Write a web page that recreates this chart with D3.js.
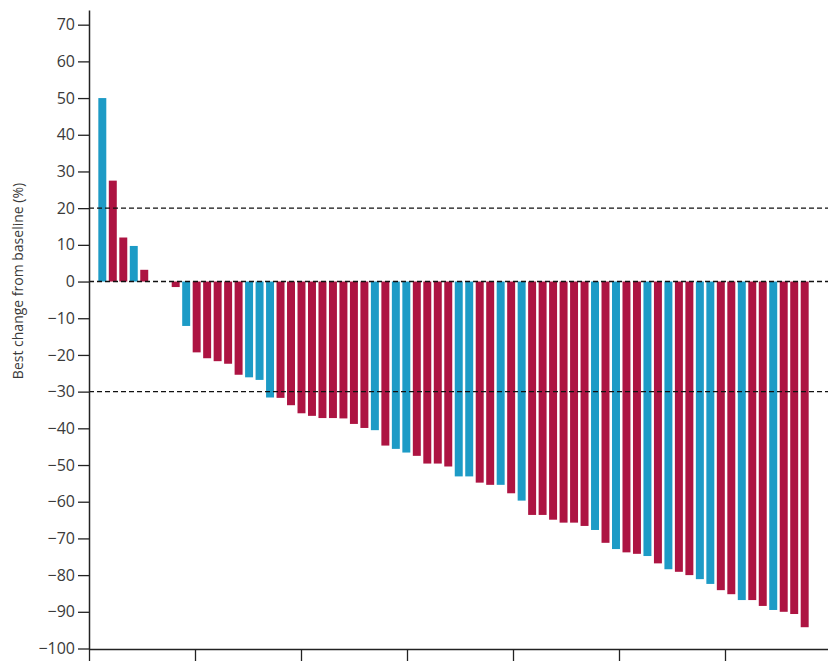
<!DOCTYPE html>
<html>
<head>
<meta charset="utf-8">
<script src="https://cdn.jsdelivr.net/npm/d3@7"></script>
<style>
  body { margin: 0; background: #fff; }
  svg { display: block; }
</style>
</head>
<body>
<script>
// best change from baseline per patient, sorted
var changes = [50, 27.5, 12, 9.7, 3.2, 0, 0, -1.5, -12.1, -19.3,
	-20.9, -21.7, -22.4, -25.4, -26.1, -26.8, -31.6, -31.7, -33.7, -35.9,
	-36.6, -37.2, -37.2, -37.3, -38.8, -39.9, -40.5, -44.7, -45.6, -46.6,
	-47.5, -49.6, -49.6, -50.4, -53.1, -53.1, -54.8, -55.4, -55.4, -57.7,
	-59.7, -63.6, -63.6, -64.9, -65.7, -65.7, -66.6, -67.7, -71.2, -72.9,
	-73.8, -74.2, -74.8, -76.8, -78.4, -79.1, -80.0, -81.1, -82.4, -84.1,
	-85.2, -86.8, -86.8, -88.4, -89.5, -90.0, -90.6, -94.2];

// arm of each patient (B = blue bars, R = red bars)
var arms = ["B","R","R","B","R","R","R","R","B","R",
	"R","R","R","R","B","B","B","R","R","R",
	"R","R","R","R","R","R","B","R","B","B",
	"R","R","R","R","B","B","R","R","B","R",
	"B","R","R","R","R","R","R","B","R","B",
	"R","R","B","R","B","R","R","B","B","R",
	"R","B","R","R","B","R","R","R"];

var yTicks = [70, 60, 50, 40, 30, 20, 10, 0, -10, -20, -30, -40, -50, -60, -70, -80, -90, -100];
var refLines = [20, 0, -30];
var xTicks = [0, 1, 2, 3, 4, 5, 6];

var W = 828, H = 661;
var colors = { B: "#1d9bc6", R: "#ad1442" };

var svg = d3.select("body").append("svg")
	.attr("width", W)
	.attr("height", H);

var y = d3.scaleLinear()
	.domain([-100, 74])
	.range([648.5, 10]);

var x = d3.scaleBand()
	.domain(d3.range(changes.length))
	.range([89, 818])
	.paddingInner(0.24)
	.paddingOuter(0.89);

var xt = d3.scaleLinear()
	.domain([0, 7])
	.range([89, 831]);

// bars
svg.append("g")
	.selectAll("rect")
	.data(changes)
	.enter()
	.append("rect")
	.attr("x", function(d, i) { return x(i); })
	.attr("width", x.bandwidth())
	.attr("y", function(d) { return y(Math.max(0, d)); })
	.attr("height", function(d) { return Math.abs(y(d) - y(0)); })
	.attr("fill", function(d, i) { return colors[arms[i]]; });

// dashed reference lines, on top of the bars
svg.append("g")
	.selectAll("line")
	.data(refLines)
	.enter()
	.append("line")
	.attr("x1", 89)
	.attr("x2", W)
	.attr("y1", function(d) { return y(d); })
	.attr("y2", function(d) { return y(d); })
	.attr("stroke", "#111")
	.attr("stroke-width", 1.4)
	.attr("stroke-dasharray", "5,3");

// y axis
var yAxis = svg.append("g")
	.attr("transform", "translate(89,0)")
	.call(d3.axisLeft(y)
		.tickValues(yTicks)
		.tickFormat(d3.format("d"))
		.tickSize(11)
		.tickPadding(3)
		.tickSizeOuter(0));

yAxis.select(".domain").attr("stroke", "#222").attr("stroke-width", 1.5);
yAxis.selectAll(".tick line").attr("stroke", "#222").attr("stroke-width", 1.3);
yAxis.selectAll(".tick text")
	.attr("fill", "#3a3a3a")
	.style("font-family", "'Open Sans', sans-serif")
	.style("font-size", "16px");

// x axis, ticks without labels
var xAxis = svg.append("g")
	.attr("transform", "translate(0,649)")
	.call(d3.axisBottom(xt)
		.tickValues(xTicks)
		.tickFormat("")
		.tickSize(12)
		.tickSizeOuter(0));

xAxis.select(".domain").attr("stroke", "#222").attr("stroke-width", 1.5);
xAxis.selectAll(".tick line").attr("stroke", "#222").attr("stroke-width", 1.3);

svg.append("text")
	.attr("transform", "translate(23,281) rotate(-90)")
	.attr("text-anchor", "middle")
	.attr("fill", "#3a3a3a")
	.style("font-family", "'Open Sans', sans-serif")
	.style("font-size", "14px")
	.text("Best change from baseline (%)");
</script>
</body>
</html>
